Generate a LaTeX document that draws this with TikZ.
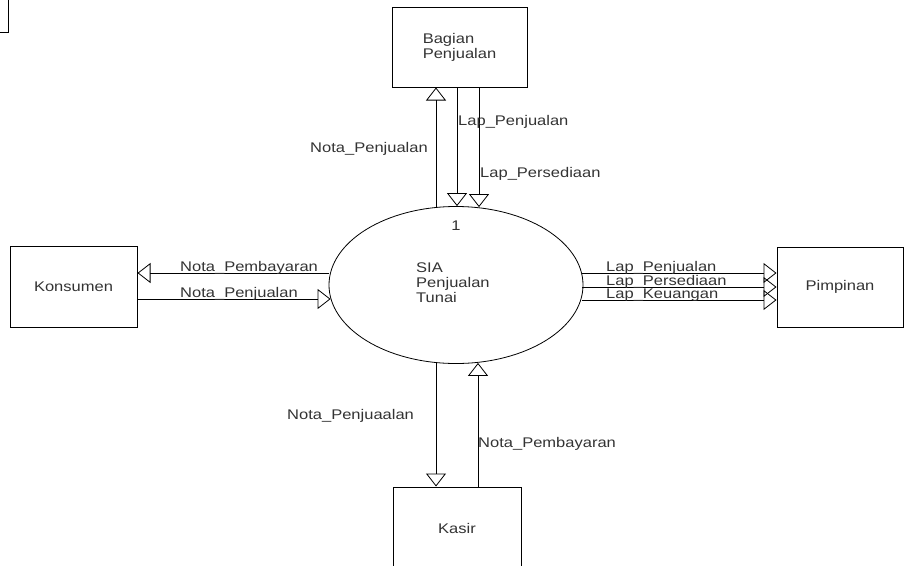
\documentclass[tikz,border=0pt]{standalone}
\usepackage{fontspec}
\setmainfont[FakeStretch=1.18]{Liberation Sans}
\usetikzlibrary{shapes.geometric, arrows.meta, positioning}
\definecolor{dfdtext}{HTML}{333333}

\begin{document}
\begin{tikzpicture}[
  x=1pt, y=-1pt,
  font=\fontsize{14}{15}\selectfont,
  entity/.style={draw, line width=1pt, minimum width=#1, minimum height=80pt,
                 inner sep=0pt, align=left, text=dfdtext},
  process/.style={draw, ellipse, line width=0.8pt, minimum width=254pt,
                  minimum height=157pt, inner sep=0pt},
  flow/.style={-{Triangle[open, length=13pt, width=20pt]}, line width=0.8pt},
  lbl/.style={inner sep=0pt, anchor=base west, text=dfdtext},
]
\useasboundingbox (0,0) rectangle (904,565);

% corner of a box cut off at the top left
\draw[line width=1pt] (8,0) -- (8,32) -- (0,32);

% process
\node[process] (proc) at (456,285) {};
\node[text=dfdtext, inner sep=0pt] (pnum) at (456,226) {1};
\node[text=dfdtext, align=left, inner sep=0pt, anchor=west] (pname) at (416,283)
  {SIA\\Penjualan\\Tunai};

% external entities
\node[entity=135pt] (bagian) at (459.5,47) {Bagian\\Penjualan};
\node[entity=127pt, minimum height=81pt] (konsumen) at (73.5,286.5) {Konsumen};
\node[entity=126pt] (pimpinan) at (840,287) {Pimpinan};
\node[entity=128pt, minimum height=82pt] (kasir) at (457,528) {Kasir};

% Bagian Penjualan
\draw[flow] ([xshift=-20pt,yshift=-1pt]proc.north) -- (bagian.south -| 436,0);
\draw[flow] (bagian.south -| 457,0) -- ([xshift=1pt]proc.north);
\draw[flow] (bagian.south -| 479,0) -- ([xshift=23pt,yshift=-1pt]proc.north);
\node[lbl, anchor=base east] (nbag) at (428,152) {Nota\_Penjualan};
\node[lbl] (lpbag) at (458,125) {Lap\_Penjualan};
\node[lbl] (lsbag) at (480,177) {Lap\_Persediaan};

% Konsumen
\draw[flow] (proc.west |- 0,273) -- (konsumen.east |- 0,273);
\draw[flow] (konsumen.east |- 0,299) -- ([xshift=2pt]proc.west |- 0,299);
\node[lbl] (nbkon) at (180,271) {Nota\_Pembayaran};
\node[lbl] (npkon) at (180,297) {Nota\_Penjualan};

% Pimpinan
\foreach \yy/\txt in {273/Lap\_Penjualan, 287/Lap\_Persediaan, 300/Lap\_Keuangan}{
  \draw[flow] ([xshift=-1pt]proc.east |- 0,\yy) -- (pimpinan.west |- 0,\yy);
  \node[lbl] at (606,\yy-2) {\txt};
}

% Kasir
\draw[flow] ([xshift=-20pt,yshift=1pt]proc.south) -- (kasir.north -| 436,0);
\draw[flow] (kasir.north -| 478,0) -- ([xshift=22pt,yshift=1pt]proc.south);
\node[lbl] (npkas) at (287,419) {Nota\_Penjuaalan};
\node[lbl] (nbkas) at (478,447) {Nota\_Pembayaran};

\end{tikzpicture}
\end{document}
